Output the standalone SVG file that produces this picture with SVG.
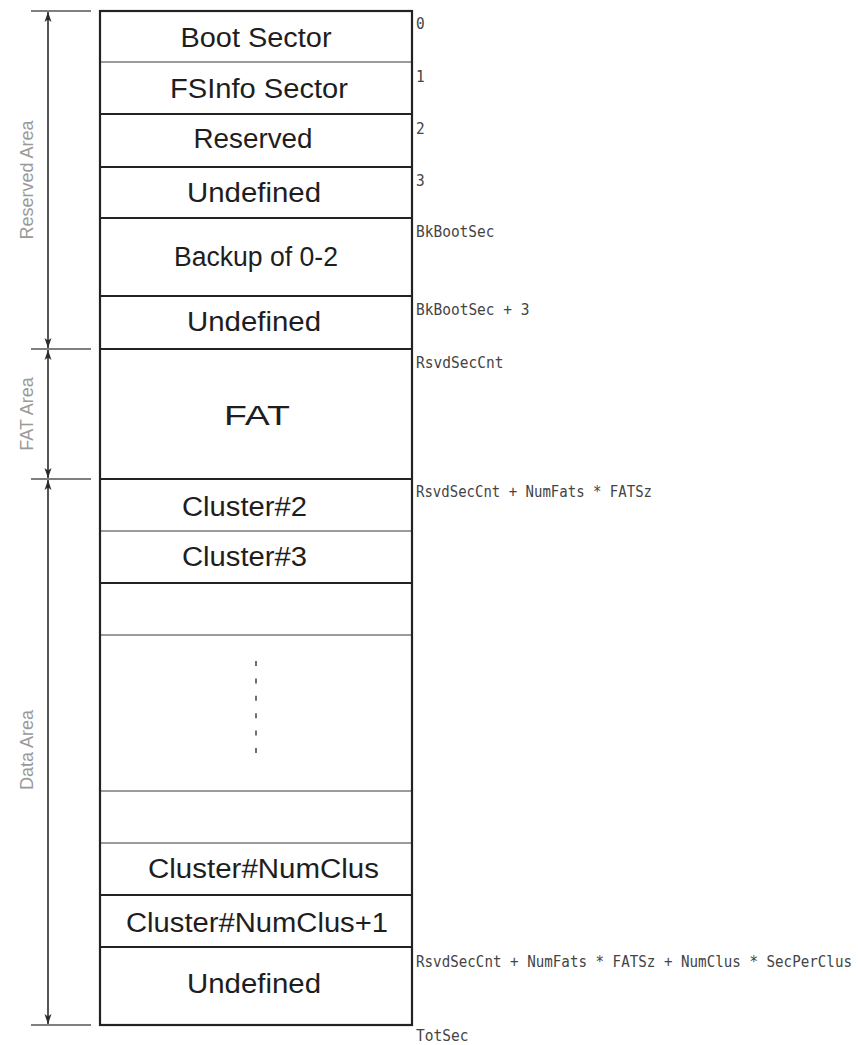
<svg xmlns="http://www.w3.org/2000/svg" width="859" height="1045" viewBox="0 0 859 1045">
  <defs>
    <marker id="head" viewBox="0 0 10 8" refX="10" refY="4" markerWidth="10" markerHeight="8" markerUnits="userSpaceOnUse" orient="auto-start-reverse">
      <path d="M0,0.5 L10,4 L0,7.5 L2.5,4 Z" fill="#2a2a2a"/>
    </marker>
    <style>
      .cell { fill: #ffffff; }
      .name { font-family: "Liberation Sans", Arial, sans-serif; font-size: 27px; fill: #1e1e1e; text-anchor: middle; }
      .addr { font-family: "DejaVu Sans Mono", "Liberation Mono", monospace; font-size: 13.5px; fill: #444444; }
      .area { font-family: "Liberation Sans", Arial, sans-serif; font-size: 18px; fill: #9a9a9a; text-anchor: middle; }
      .thin { stroke: #7a7a7a; stroke-width: 1.6; }
      .thick { stroke: #222222; stroke-width: 2.2; }
      .tick { stroke: #555555; stroke-width: 1.6; }
      .dim { stroke: #2a2a2a; stroke-width: 1.6; fill: none; }
      .dots { stroke: #333333; stroke-width: 1.4; stroke-dasharray: 5 12.4; }
    </style>
  </defs>

  <rect width="859" height="1045" fill="#ffffff"/>

  <!-- sectors of the volume, top to bottom -->
  <g id="boot-sector"><rect class="cell" x="100" y="11" width="312" height="51"/><text class="name" x="256" y="47" textLength="151" lengthAdjust="spacingAndGlyphs">Boot Sector</text></g>
  <g id="fsinfo-sector"><rect class="cell" x="100" y="62" width="312" height="52"/><text class="name" x="259" y="98" textLength="178" lengthAdjust="spacingAndGlyphs">FSInfo Sector</text></g>
  <g id="reserved"><rect class="cell" x="100" y="114" width="312" height="53"/><text class="name" x="253" y="148" textLength="119" lengthAdjust="spacingAndGlyphs">Reserved</text></g>
  <g id="undefined-1"><rect class="cell" x="100" y="167" width="312" height="51"/><text class="name" x="254" y="202" textLength="134" lengthAdjust="spacingAndGlyphs">Undefined</text></g>
  <g id="backup"><rect class="cell" x="100" y="218" width="312" height="78"/><text class="name" x="256" y="266" textLength="164" lengthAdjust="spacingAndGlyphs">Backup of 0-2</text></g>
  <g id="undefined-2"><rect class="cell" x="100" y="296" width="312" height="53"/><text class="name" x="254" y="331" textLength="134" lengthAdjust="spacingAndGlyphs">Undefined</text></g>
  <g id="fat"><rect class="cell" x="100" y="349" width="312" height="130"/><text class="name" x="257" y="425" textLength="66" lengthAdjust="spacingAndGlyphs">FAT</text></g>
  <g id="cluster-2"><rect class="cell" x="100" y="479" width="312" height="52"/><text class="name" x="244.5" y="516" textLength="125" lengthAdjust="spacingAndGlyphs">Cluster#2</text></g>
  <g id="cluster-3"><rect class="cell" x="100" y="531" width="312" height="52"/><text class="name" x="244.5" y="566" textLength="125" lengthAdjust="spacingAndGlyphs">Cluster#3</text></g>
  <g id="cluster-blank-1"><rect class="cell" x="100" y="583" width="312" height="52"/></g>
  <g id="cluster-ellipsis"><rect class="cell" x="100" y="635" width="312" height="156"/><line class="dots" x1="256" y1="661" x2="256" y2="753"/></g>
  <g id="cluster-blank-2"><rect class="cell" x="100" y="791" width="312" height="52"/></g>
  <g id="cluster-numclus"><rect class="cell" x="100" y="843" width="312" height="52"/><text class="name" x="263.5" y="878" textLength="231" lengthAdjust="spacingAndGlyphs">Cluster#NumClus</text></g>
  <g id="cluster-numclus-1"><rect class="cell" x="100" y="895" width="312" height="52"/><text class="name" x="257" y="932" textLength="262" lengthAdjust="spacingAndGlyphs">Cluster#NumClus+1</text></g>
  <g id="undefined-3"><rect class="cell" x="100" y="947" width="312" height="78"/><text class="name" x="254" y="993" textLength="134" lengthAdjust="spacingAndGlyphs">Undefined</text></g>

  <!-- sector boundaries and outline -->
  <g id="dividers">
    <line class="thin" x1="100" y1="62" x2="412" y2="62"/>
    <line class="thick" x1="100" y1="114" x2="412" y2="114"/>
    <line class="thick" x1="100" y1="167" x2="412" y2="167"/>
    <line class="thick" x1="100" y1="218" x2="412" y2="218"/>
    <line class="thick" x1="100" y1="296" x2="412" y2="296"/>
    <line class="thick" x1="100" y1="349" x2="412" y2="349"/>
    <line class="thick" x1="100" y1="479" x2="412" y2="479"/>
    <line class="thin" x1="100" y1="531" x2="412" y2="531"/>
    <line class="thick" x1="100" y1="583" x2="412" y2="583"/>
    <line class="thin" x1="100" y1="635" x2="412" y2="635"/>
    <line class="thin" x1="100" y1="791" x2="412" y2="791"/>
    <line class="thin" x1="100" y1="843" x2="412" y2="843"/>
    <line class="thick" x1="100" y1="895" x2="412" y2="895"/>
    <line class="thick" x1="100" y1="947" x2="412" y2="947"/>
    <rect x="100" y="11" width="312" height="1014" fill="none" stroke="#222222" stroke-width="2.2"/>
  </g>

  <!-- sector addresses (monospace, slightly tall) -->
  <g id="addresses">
    <text class="addr" transform="translate(416 29) scale(1 1.2)" textLength="8.7" lengthAdjust="spacingAndGlyphs">0</text>
    <text class="addr" transform="translate(416 82) scale(1 1.2)" textLength="8.7" lengthAdjust="spacingAndGlyphs">1</text>
    <text class="addr" transform="translate(416 134) scale(1 1.2)" textLength="8.7" lengthAdjust="spacingAndGlyphs">2</text>
    <text class="addr" transform="translate(416 186) scale(1 1.2)" textLength="8.7" lengthAdjust="spacingAndGlyphs">3</text>
    <text class="addr" transform="translate(416 237) scale(1 1.2)" textLength="78.5" lengthAdjust="spacingAndGlyphs">BkBootSec</text>
    <text class="addr" transform="translate(416 315) scale(1 1.2)" textLength="113.5" lengthAdjust="spacingAndGlyphs">BkBootSec + 3</text>
    <text class="addr" transform="translate(416 368) scale(1 1.2)" textLength="87.5" lengthAdjust="spacingAndGlyphs">RsvdSecCnt</text>
    <text class="addr" transform="translate(416 497) scale(1 1.2)" textLength="236" lengthAdjust="spacingAndGlyphs">RsvdSecCnt + NumFats * FATSz</text>
    <text class="addr" transform="translate(416 967) scale(1 1.2)" textLength="436" lengthAdjust="spacingAndGlyphs">RsvdSecCnt + NumFats * FATSz + NumClus * SecPerClus</text>
    <text class="addr" transform="translate(416 1041) scale(1 1.2)" textLength="52.5" lengthAdjust="spacingAndGlyphs">TotSec</text>
  </g>

  <!-- area dimension lines -->
  <g id="connectors">
    <line class="tick" x1="31" y1="11" x2="91" y2="11"/>
    <line class="tick" x1="31" y1="349" x2="91" y2="349"/>
    <line class="tick" x1="31" y1="479" x2="91" y2="479"/>
    <line class="tick" x1="31" y1="1025" x2="91" y2="1025"/>
    <line class="dim" x1="48" y1="12" x2="48" y2="348" marker-start="url(#head)" marker-end="url(#head)"/>
    <line class="dim" x1="48" y1="350" x2="48" y2="478" marker-start="url(#head)" marker-end="url(#head)"/>
    <line class="dim" x1="48" y1="480" x2="48" y2="1024" marker-start="url(#head)" marker-end="url(#head)"/>
  </g>

  <g id="area-labels">
    <text class="area" x="33" y="180" transform="rotate(-90 33 180)">Reserved Area</text>
    <text class="area" x="33" y="414" transform="rotate(-90 33 414)">FAT Area</text>
    <text class="area" x="33" y="750" transform="rotate(-90 33 750)">Data Area</text>
  </g>
</svg>
